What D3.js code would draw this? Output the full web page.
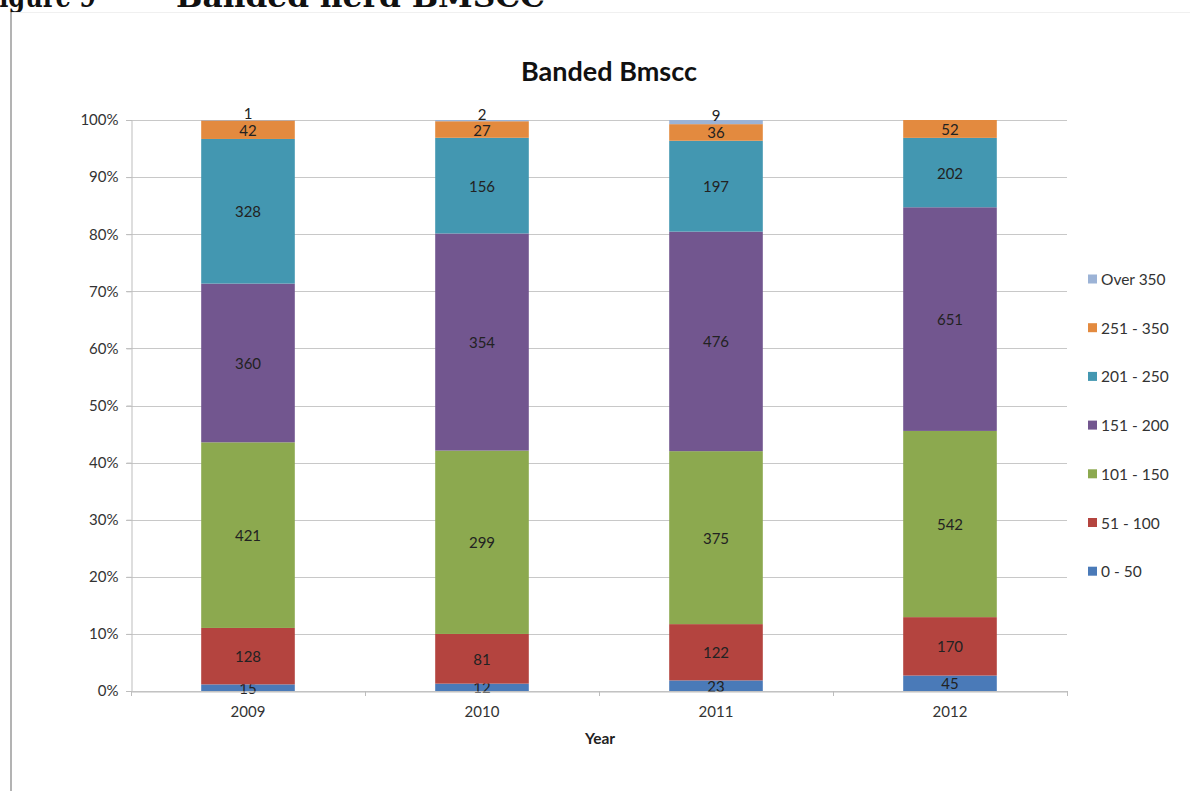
<!DOCTYPE html>
<html>
<head>
<meta charset="utf-8">
<script src="https://cdn.jsdelivr.net/npm/d3@7/dist/d3.min.js"></script>
<style>
  html, body { margin: 0; padding: 0; background: #fff; }
  svg { display: block; }
</style>
</head>
<body>
<svg id="chart" width="1202" height="791"></svg>
<script>
// Herd counts by bulk milk somatic cell count band, per year
const years = ["2009", "2010", "2011", "2012"];
const bands = ["0 - 50", "51 - 100", "101 - 150", "151 - 200", "201 - 250", "251 - 350", "Over 350"];
const band0to50    = [15, 12, 23, 45];
const band51to100  = [128, 81, 122, 170];
const band101to150 = [421, 299, 375, 542];
const band151to200 = [360, 354, 476, 651];
const band201to250 = [328, 156, 197, 202];
const band251to350 = [42, 27, 36, 52];
const bandOver350  = [1, 2, 9, 0];
const yTicks = [0, 0.1, 0.2, 0.3, 0.4, 0.5, 0.6, 0.7, 0.8, 0.9, 1.0];
const bandColors = ["#4a7ab8", "#b4443f", "#8ca94f", "#72568f", "#4397b1", "#e38a3f", "#9cb3d6"];

const seriesValues = [band0to50, band51to100, band101to150, band151to200, band201to250, band251to350, bandOver350];
const rows = years.map((yr, i) => {
  const r = { year: yr };
  bands.forEach((b, j) => { r[b] = seriesValues[j][i]; });
  return r;
});

const svg = d3.select("#chart");
const font = "Lato, 'Open Sans', 'Liberation Sans', sans-serif";
const serif = "'DejaVu Serif', 'Liberation Serif', serif";

// Page heading (its upper part runs off the top edge)
svg.append("text")
  .attr("x", -18).attr("y", 7)
  .attr("font-family", serif)
  .attr("font-weight", "bold").attr("font-size", 30)
  .attr("textLength", 114).attr("lengthAdjust", "spacingAndGlyphs")
  .attr("fill", "#111")
  .text("Figure 9");
svg.append("text")
  .attr("x", 176).attr("y", 7)
  .attr("font-family", serif)
  .attr("font-weight", "bold").attr("font-size", 30)
  .attr("textLength", 369).attr("lengthAdjust", "spacingAndGlyphs")
  .attr("fill", "#111")
  .text("Banded herd BMSCC");

// Frame of the embedded chart
svg.append("line")
  .attr("x1", 11).attr("x2", 11).attr("y1", 12).attr("y2", 791)
  .attr("stroke", "#9a9a9a").attr("stroke-width", 1.5);
svg.append("line")
  .attr("x1", 12).attr("x2", 1190).attr("y1", 12.5).attr("y2", 12.5)
  .attr("stroke", "#f0f0f0").attr("stroke-width", 1);

const margin = { left: 131, right: 1067, top: 120, bottom: 691 };

const x = d3.scaleBand()
  .domain(years)
  .range([margin.left, margin.right])
  .paddingInner(0.6).paddingOuter(0.3);

const y = d3.scaleLinear().domain([0, 1]).range([margin.bottom, margin.top]);

// Gridlines
svg.append("g")
  .selectAll("line")
  .data(yTicks)
  .join("line")
  .attr("x1", margin.left - 5).attr("x2", margin.right)
  .attr("y1", d => Math.round(y(d)) + 0.5).attr("y2", d => Math.round(y(d)) + 0.5)
  .attr("stroke", "#c8c8c8").attr("stroke-width", 1);

// Y axis
const yAxis = svg.append("g")
  .attr("transform", `translate(${margin.left + 0.5},0)`)
  .call(d3.axisLeft(y).tickValues(yTicks).tickFormat(d3.format(".0%")).tickSize(5).tickPadding(8));
yAxis.select(".domain").attr("stroke", "#bdbdbd");
yAxis.selectAll(".tick line").attr("stroke", "#bdbdbd");
yAxis.selectAll("text").attr("font-family", font).attr("font-size", 15).attr("fill", "#333");

// Stacked percentage layout
const stack = d3.stack().keys(bands).offset(d3.stackOffsetExpand);
const layers = stack(rows);

const layerG = svg.append("g")
  .selectAll("g")
  .data(layers)
  .join("g")
  .attr("fill", (d, i) => bandColors[i]);

layerG.selectAll("rect")
  .data(d => d.map(s => ({ s, key: d.key })))
  .join("rect")
  .attr("x", d => x(d.s.data.year))
  .attr("width", x.bandwidth())
  .attr("y", d => y(d.s[1]))
  .attr("height", d => Math.max(0, y(d.s[0]) - y(d.s[1])));

// X axis
const xAxis = svg.append("g")
  .attr("transform", `translate(0,${margin.bottom + 0.5})`)
  .call(d3.axisBottom(x).tickSize(0).tickPadding(15));
xAxis.select(".domain").attr("stroke", "#bdbdbd");
xAxis.selectAll("text").attr("font-family", font).attr("font-size", 15).attr("fill", "#333");
// Category separators
const step = x.step();
svg.append("g")
  .selectAll("line")
  .data(d3.range(years.length + 1))
  .join("line")
  .attr("x1", i => margin.left + i * step + 0.5)
  .attr("x2", i => margin.left + i * step + 0.5)
  .attr("y1", margin.bottom).attr("y2", margin.bottom + 5)
  .attr("stroke", "#bdbdbd");

// Segment value labels
layerG.selectAll("text")
  .data(d => d.map(s => ({ s, key: d.key })).filter(d => d.s.data[d.key] > 0))
  .join("text")
  .attr("x", d => x(d.s.data.year) + x.bandwidth() / 2)
  .attr("y", d => {
    const mid = (y(d.s[0]) + y(d.s[1])) / 2;
    return d.key === "Over 350" ? mid - 7 : mid;
  })
  .attr("text-anchor", "middle")
  .attr("dominant-baseline", "central")
  .attr("font-family", font).attr("font-size", 15)
  .attr("fill", "#222")
  .text(d => d.s.data[d.key]);

// Chart title
svg.append("text")
  .attr("x", 609).attr("y", 81)
  .attr("text-anchor", "middle")
  .attr("font-family", font).attr("font-weight", "bold").attr("font-size", 27)
  .attr("fill", "#111")
  .text("Banded Bmscc");

// Axis title
svg.append("text")
  .attr("x", 600).attr("y", 744)
  .attr("text-anchor", "middle")
  .attr("font-family", font).attr("font-weight", "bold").attr("font-size", 15.5)
  .attr("fill", "#222")
  .text("Year");

// Legend, top entry is the last band
const legendOrder = bands.slice().reverse();
const legend = svg.append("g")
  .selectAll("g")
  .data(legendOrder)
  .join("g")
  .attr("transform", (d, i) => `translate(1088,${279 + i * 48.7})`);
legend.append("rect")
  .attr("x", 0).attr("y", -4.5).attr("width", 9).attr("height", 9)
  .attr("fill", d => bandColors[bands.indexOf(d)]);
legend.append("text")
  .attr("x", 13).attr("y", 0)
  .attr("dominant-baseline", "central")
  .attr("font-family", font).attr("font-size", 15.5)
  .attr("fill", "#333")
  .text(d => d);
</script>
</body>
</html>
